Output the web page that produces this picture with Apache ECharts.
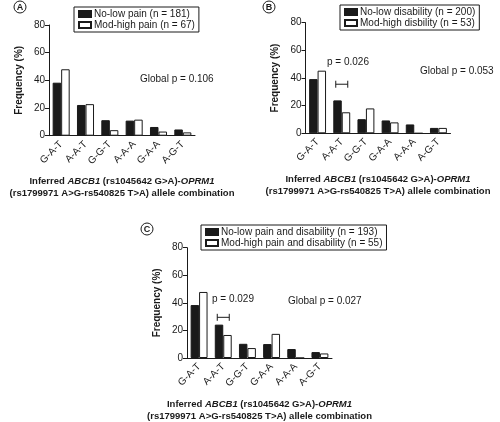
<!DOCTYPE html>
<html><head><meta charset="utf-8">
<script src="https://cdn.jsdelivr.net/npm/echarts@6/dist/echarts.min.js"></script>
<style>html,body{margin:0;padding:0;background:#fff}#c{width:500px;height:422px}</style>
</head><body><div id="c"></div>
<script>
const categoriesA = ['G-A-T','A-A-T','G-G-T','A-A-A','G-A-A','A-G-T'];
const categoriesB = ['G-A-T','A-A-T','G-G-T','G-A-A','A-A-A','A-G-T'];
const categoriesC = ['G-A-T','A-A-T','G-G-T','G-A-A','A-A-A','A-G-T'];
const noLowPain = [38.3,22.2,11.2,10.9,6.3,4.5];
const modHighPain = [48.0,22.8,4.0,11.6,3.0,2.4];
const noLowDis = [39.2,23.8,10.2,9.3,6.4,3.9];
const modHighDis = [45.3,15.2,18.0,7.9,0,3.9];
const noLowBoth = [38.4,24.2,10.3,10.1,6.5,4.3];
const modHighBoth = [47.9,16.7,7.2,17.5,0,3.3];
const yTicks = {min:0, max:80, interval:20};
const namesA = ['No-low pain (n = 181)','Mod-high pain (n = 67)'];
const namesB = ['No-low disability (n = 200)','Mod-high disbility (n = 53)'];
const namesC = ['No-low pain and disability (n = 193)','Mod-high pain and disability (n = 55)'];
const bracketB = [[1, 35.5]];
const bracketC = [[1, 29.5]];

const FONT = 'Liberation Sans, Arial, sans-serif';
const INK = '#1a1a1a';
const chart = echarts.init(document.getElementById('c'));

const grids = [
  {left:49, top:25, width:146, height:110.7},
  {left:305.5, top:22.7, width:145, height:110.6},
  {left:187, top:247.7, width:145, height:111}
];
const xName = '{b|Inferred }{i|ABCB1}{b| (rs1045642 G>A)-}{i|OPRM1}\n{b|(rs1799971 A>G-rs540825 T>A) allele combination}';
function xAxis(idx, cats){
  return {type:'category', gridIndex:idx, data:cats,
    axisLine:{lineStyle:{color:INK,width:1}},
    axisTick:{alignWithLabel:true, length:4, lineStyle:{color:INK}},
    axisLabel:{rotate:45, fontSize:10, color:INK, fontFamily:FONT, margin:7},
    name:xName, nameLocation:'middle', nameGap:40,
    nameTextStyle:{rich:{
      b:{fontWeight:'bold', fontSize:9.5, fontFamily:FONT, color:INK, lineHeight:12},
      i:{fontWeight:'bold', fontStyle:'italic', fontSize:9.5, fontFamily:FONT, color:INK, lineHeight:12}
    }}
  };
}
function yAxis(idx){
  return {type:'value', gridIndex:idx, min:yTicks.min, max:yTicks.max, interval:yTicks.interval,
    axisLine:{show:true, lineStyle:{color:INK}},
    axisTick:{show:true, length:4, lineStyle:{color:INK}},
    splitLine:{show:false},
    axisLabel:{fontSize:10, color:INK, fontFamily:FONT, margin:4},
    name:'Frequency (%)', nameLocation:'middle', nameGap:25,
    nameTextStyle:{fontWeight:'bold', fontSize:10, fontFamily:FONT, color:INK}
  };
}
function bars(idx, name, data, dark){
  return {type:'bar', name:name, xAxisIndex:idx, yAxisIndex:idx, data:data,
    barGap:'0%', barCategoryGap:'30%',
    itemStyle:{color: dark?INK:'#fff', borderColor:INK, borderWidth:1},
    emphasis:{disabled:true}, animation:false};
}
function bracket(idx, data){
  return {type:'custom', xAxisIndex:idx, yAxisIndex:idx, data:data, animation:false, silent:true,
    renderItem:function(params, api){
      const c = api.coord([api.value(0), api.value(1)]);
      const half = 6;
      const st = {stroke:INK, lineWidth:1};
      return {type:'group', children:[
        {type:'line', shape:{x1:c[0]-half, y1:c[1], x2:c[0]+half, y2:c[1]}, style:st},
        {type:'line', shape:{x1:c[0]-half, y1:c[1]-3.5, x2:c[0]-half, y2:c[1]+3.5}, style:st},
        {type:'line', shape:{x1:c[0]+half, y1:c[1]-3.5, x2:c[0]+half, y2:c[1]+3.5}, style:st}
      ]};
    }};
}
function legend(names, left, top){
  return {data:names.map(n=>({name:n, icon:'rect'})), left:left, top:top, orient:'vertical', itemWidth:12, itemHeight:6, itemGap:1,
    padding:[2,4,2,4], borderColor:INK, borderWidth:1, borderRadius:0,
    textStyle:{fontSize:10, fontFamily:FONT, color:INK, padding:[0,0,0,-2]}, selectedMode:false};
}
function circled(letter, cx, cy){
  return [
    {type:'circle', shape:{cx:cx, cy:cy, r:6}, style:{fill:'#fff', stroke:INK, lineWidth:1}},
    {type:'text', x:cx, y:cy+0.5, style:{text:letter, fontSize:9, fontWeight:'bold', fontFamily:FONT, fill:INK, align:'center', verticalAlign:'middle'}}
  ];
}
function txt(s, x, y){
  return {type:'text', x:x, y:y, style:{text:s, fontSize:10, fontFamily:FONT, fill:INK, verticalAlign:'middle'}};
}

chart.setOption({
  animation:false,
  grid:grids,
  xAxis:[xAxis(0,categoriesA), xAxis(1,categoriesB), xAxis(2,categoriesC)],
  yAxis:[yAxis(0), yAxis(1), yAxis(2)],
  legend:[legend(namesA,74,7), legend(namesB,340,5), legend(namesC,201,225)],
  series:[
    bars(0,namesA[0],noLowPain,true), bars(0,namesA[1],modHighPain,false),
    bars(1,namesB[0],noLowDis,true), bars(1,namesB[1],modHighDis,false),
    bars(2,namesC[0],noLowBoth,true), bars(2,namesC[1],modHighBoth,false),
    bracket(1, bracketB), bracket(2, bracketC)
  ],
  graphic:[].concat(
    circled('A',20,7), circled('B',269,7), circled('C',147,229),
    [txt('Global p = 0.106',140,79), txt('Global p = 0.053',420,71), txt('Global p = 0.027',288,301),
     txt('p = 0.026',327,62), txt('p = 0.029',212,299)]
  )
});
</script></body></html>
